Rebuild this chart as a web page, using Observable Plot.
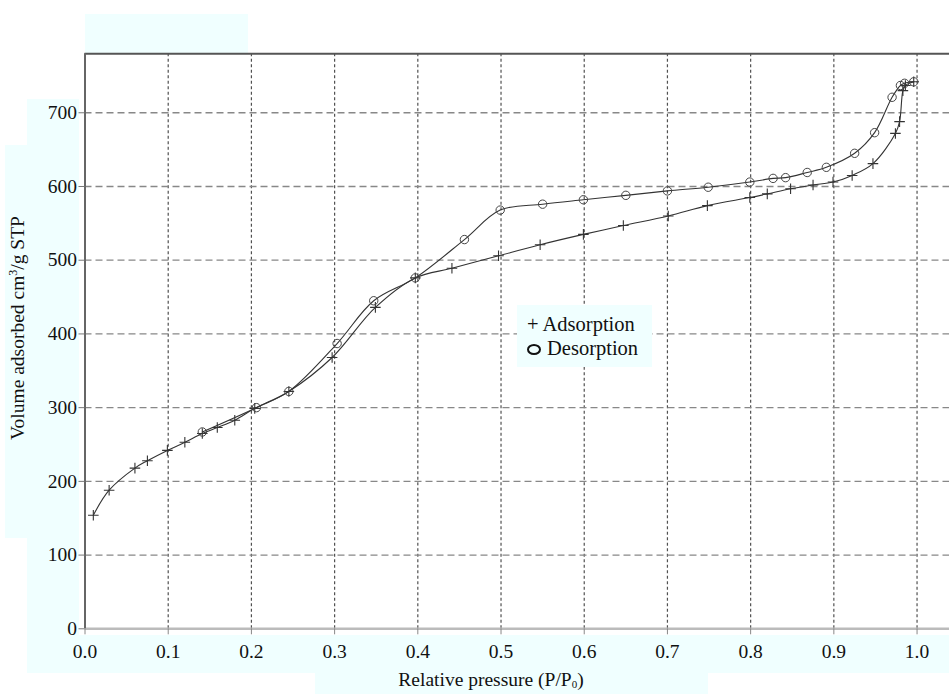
<!DOCTYPE html>
<html>
<head>
<meta charset="utf-8">
<script src="https://cdn.jsdelivr.net/npm/d3@7"></script>
<script src="https://cdn.jsdelivr.net/npm/@observablehq/plot@0.6"></script>
<style>
  html, body { margin: 0; padding: 0; background: #fff; }
  #wrap { position: relative; width: 949px; height: 694px; overflow: hidden; font-family: "Liberation Serif", "Times New Roman", serif; color: #111; }
  .box { position: absolute; background: #f0ffff; }
  #chart { position: absolute; left: 0; top: 0; }
  .lbl { position: absolute; font-size: 19px; white-space: nowrap; line-height: 1; }
  #legend { position: absolute; left: 517px; top: 305px; width: 135px; height: 62px; background: #f0ffff; }
  #legend .lbl { font-size: 20.5px; }
  .sb { font-size: 11px; vertical-align: -2px; line-height: 0; }
  .sp { font-size: 12px; vertical-align: 7px; line-height: 0; }
</style>
</head>
<body>
<div id="wrap">
  <div class="box" style="left:85px;top:14px;width:163px;height:39px"></div>
  <div class="box" style="left:27px;top:99px;width:52px;height:537px"></div>
  <div class="box" style="left:5px;top:145px;width:22px;height:393px"></div>
  <div class="box" style="left:27px;top:635px;width:922px;height:38px"></div>
  <div class="box" style="left:315px;top:673px;width:393px;height:21px"></div>
  <div id="chart"></div>
  <div class="lbl" id="xtitle" style="left:491px;top:670px;font-size:19.5px;transform:translateX(-50%)">Relative pressure (P/P<span class="sb">0</span>)</div>
  <div class="lbl" id="ytitle" style="left:18px;top:328px;font-size:19.5px;transform:translate(-50%,-50%) rotate(-90deg)">Volume adsorbed cm<span class="sp">3</span>/g STP</div>
  <div id="legend">
    <div class="lbl" style="left:10px;top:9px">+ Adsorption</div>
    <div style="position:absolute;left:10px;top:39px;width:10px;height:7px;border:2px solid #111;border-radius:50%"></div>
    <div class="lbl" style="left:30px;top:33px">Desorption</div>
  </div>
</div>
<script>
const xTicks = [0, 0.1, 0.2, 0.3, 0.4, 0.5, 0.6, 0.7, 0.8, 0.9, 1.0];
const yTicks = [0, 100, 200, 300, 400, 500, 600, 700];

const adsP = [0.010, 0.029, 0.060, 0.075, 0.099, 0.120, 0.141, 0.159, 0.180, 0.204, 0.245, 0.297, 0.349, 0.397, 0.441, 0.497, 0.547, 0.599, 0.647, 0.701, 0.748, 0.799, 0.820, 0.848, 0.875, 0.899, 0.922, 0.947, 0.974, 0.979, 0.983, 0.986, 0.996];
const adsV = [154, 188, 218, 228, 242, 253, 265, 273, 283, 299, 322, 368, 436, 476, 489, 506, 521, 535, 547, 560, 574, 585, 590, 597, 602, 606, 615, 631, 672, 688, 730, 737, 742];

const desP = [0.996, 0.985, 0.980, 0.970, 0.949, 0.925, 0.891, 0.868, 0.842, 0.827, 0.799, 0.749, 0.700, 0.650, 0.599, 0.550, 0.499, 0.456, 0.397, 0.347, 0.303, 0.245, 0.206, 0.141];
const desV = [742, 740, 737, 721, 673, 645, 626, 619, 612, 611, 606, 599, 594, 588, 582, 576, 568, 528, 476, 445, 387, 322, 300, 267];

const ads = adsP.map((p, i) => ({p, v: adsV[i]}));
const des = desP.map((p, i) => ({p, v: desV[i]}));

const chart = Plot.plot({
  width: 949,
  height: 694,
  marginLeft: 84.5,
  marginRight: 0,
  marginTop: 53.3,
  marginBottom: 65.7,
  style: {fontFamily: '"Liberation Serif", "Times New Roman", serif', fontSize: "19px", background: "transparent", color: "#111"},
  x: {domain: [0, 1.039], label: null},
  y: {domain: [0, 780], label: null},
  marks: [
    Plot.gridX(xTicks.slice(1), {stroke: "#333", strokeOpacity: 0.85, strokeDasharray: "3,2.5", strokeWidth: 1.2}),
    Plot.gridY(yTicks.slice(1), {stroke: "#888", strokeOpacity: 1, strokeDasharray: "7,4", strokeWidth: 1.3}),
    Plot.ruleY([0], {stroke: "#bbb", strokeWidth: 2.5}),
    Plot.ruleY([780], {stroke: "#555", strokeWidth: 2}),
    Plot.ruleX([0], {stroke: "#666", strokeWidth: 2}),
    Plot.axisX(xTicks, {tickSize: 6, tickPadding: 9, tickFormat: d => d.toFixed(1), stroke: "#888", label: null, fontSize: 19.5}),
    Plot.axisY(yTicks, {tickSize: 6, tickPadding: 2, stroke: "#777", label: null, fontSize: 19.5}),
    Plot.line(ads, {x: "p", y: "v", curve: "catmull-rom", stroke: "#333", strokeWidth: 1.1}),
    Plot.line(des, {x: "p", y: "v", curve: "catmull-rom", stroke: "#333", strokeWidth: 1.1}),
    Plot.dot(ads, {x: "p", y: "v", symbol: "plus", r: 3.5, stroke: "#333", strokeWidth: 1.1}),
    Plot.dot(des, {x: "p", y: "v", symbol: "circle", r: 4.2, stroke: "#444", strokeWidth: 1, fill: "none"})
  ]
});
document.getElementById("chart").appendChild(chart);
</script>
</body>
</html>
